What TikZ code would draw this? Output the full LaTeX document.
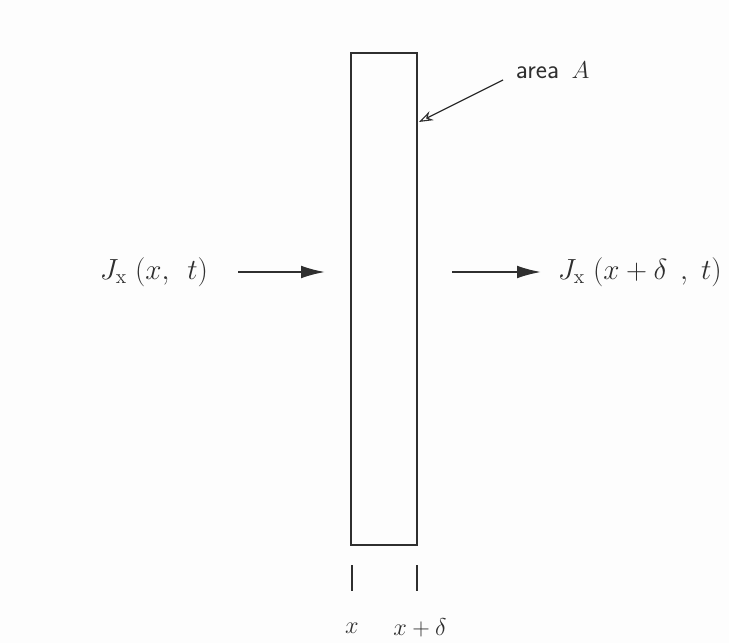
\documentclass[tikz,border=0pt]{standalone}
\usepackage{amsmath,amssymb}
\usepackage{xcolor}
\usepackage{tikz}
\usetikzlibrary{arrows.meta,positioning}
\definecolor{ink}{HTML}{2F2F2F}
\definecolor{paper}{HTML}{FDFDFD}

\begin{document}
\begin{tikzpicture}[x=0.025cm,y=-0.025cm,>=Latex,
    slab/.style={draw=ink,line width=1.5pt,minimum width=1.65cm,minimum height=12.3cm,inner sep=0pt},
    flux/.style={->,ink,line width=1.3pt,>={Latex[length=17pt,width=9pt]}},
    pointer/.style={->,ink,line width=0.8pt,>={Stealth[length=10pt,width=7pt,open]}},
    lab/.style={ink,font=\fontsize{21}{25}\selectfont}]
  \useasboundingbox[fill=paper] (0,0) rectangle (729,643);
  \node[slab] (slab) at (384,299) {};
  \node[lab,anchor=west] (jin) at (95,272) {$J_{\mathrm{x}}\;(x,\;\,t)$};
  \node[lab,anchor=west] (jout) at (553,272) {$J_{\mathrm{x}}\;(x+\delta\;\,,\;t)$};
  \coordinate (inS) at (238,272);
  \coordinate (inE) at (325,272);
  \coordinate (outS) at (452,272);
  \coordinate (outE) at (541,272);
  \draw[flux] (inS)--(inE);
  \draw[flux] (outS)--(outE);
  \node[ink,font=\fontsize{19}{23}\selectfont,anchor=west] (areaA) at (511,70) {\textsf{area}\,\ $A$};
  \coordinate (areaS) at (503,80);
  \coordinate (areaTip) at (419,122);
  \draw[pointer] (areaS) -- (areaTip);
  \foreach \xx/\lx/\lab/\nm in {352/352/{x}/xl,417/420/{x+\delta}/xr}{
    \draw[ink,line width=2pt] (\xx,565)--(\xx,591);
    \node[lab,font=\fontsize{16}{20}\selectfont] (\nm) at (\lx,628) {$\lab$};
  }
\end{tikzpicture}
\end{document}
